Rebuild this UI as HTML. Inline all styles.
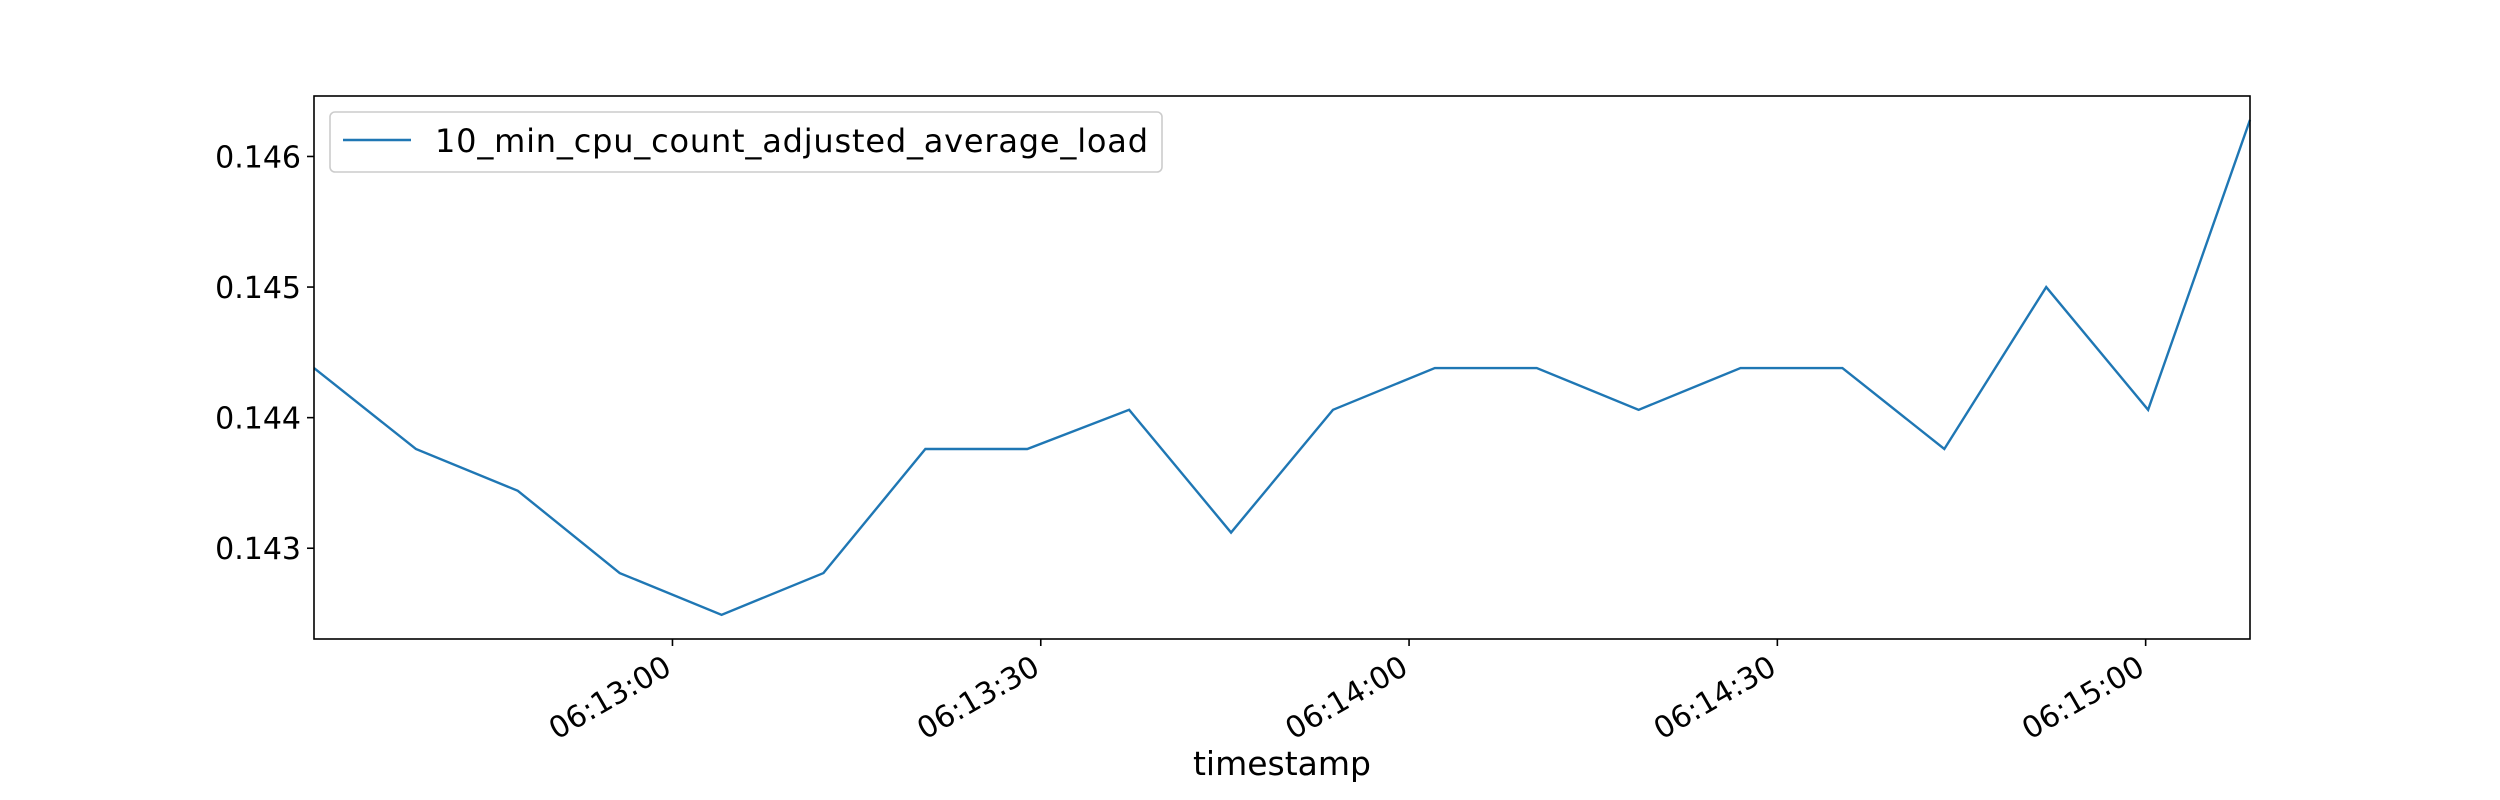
<!DOCTYPE html>
<html><head><meta charset="utf-8"><style>body{margin:0;background:#fff}svg{display:block}text{font-family:"DejaVu Sans","Liberation Sans",sans-serif;fill:#000}</style></head>
<body>
<svg id="chart" width="2500" height="800" xmlns="http://www.w3.org/2000/svg">
<rect width="2500" height="800" fill="#fff"/>
<g id="grid"></g>
<g id="series"></g>
<rect x="314" y="96" width="1936" height="543" fill="none" stroke="#000" stroke-width="1.6"/>
<g id="axes"></g>
<g>
<rect x="330" y="112" width="832" height="60" rx="5" fill="#fff" stroke="#ccc" stroke-width="1.6"/>
<line x1="343" y1="140" x2="411" y2="140" stroke="#1f77b4" stroke-width="2.4"/>
<text x="435" y="152" font-size="32" textLength="713">10_min_cpu_count_adjusted_average_load</text>
</g>
<text x="1282" y="775" font-size="33" text-anchor="middle">timestamp</text>
</svg>
<script>
// seconds relative to 06:13:00
const times = [-29.2,-20.9,-12.6,-4.3,4.0,12.3,20.6,28.9,37.2,45.5,53.8,62.1,70.4,78.7,87.0,95.3,103.6,111.9,120.2,128.5];
const values = [0.14438,0.14376,0.14344,0.14281,0.14249,0.14281,0.14376,0.14376,0.14406,0.14312,0.14406,0.14438,0.14438,0.14406,0.14438,0.14438,0.14376,0.14500,0.14406,0.14628];
const yTicks = [0.143,0.144,0.145,0.146];
const yTickLabels = ["0.143","0.144","0.145","0.146"];
const xTicks = [0,30,60,90,120];
const xTickLabels = ["06:13:00","06:13:30","06:14:00","06:14:30","06:15:00"];

const L=314,R=2250,T=96,B=639;
const xMin=-29.2,xMax=128.5,yMin=0.142305,yMax=0.146463;
const xs=t=>L+(t-xMin)/(xMax-xMin)*(R-L);
const ys=v=>B-(v-yMin)/(yMax-yMin)*(B-T);
const NS="http://www.w3.org/2000/svg";
const axes=document.getElementById('axes');
yTicks.forEach((v,i)=>{
  const y=ys(v);
  const l=document.createElementNS(NS,'line');
  l.setAttribute('x1',L-7);l.setAttribute('x2',L);l.setAttribute('y1',y);l.setAttribute('y2',y);
  l.setAttribute('stroke','#000');l.setAttribute('stroke-width','1.6');
  
  
  axes.appendChild(l);
  const t=document.createElementNS(NS,'text');
  t.setAttribute('x',L-13);t.setAttribute('y',y+11);t.setAttribute('font-size','30');t.setAttribute('text-anchor','end');
  t.textContent=yTickLabels[i];
  
  
  axes.appendChild(t);
});
xTicks.forEach((s,i)=>{
  const x=xs(s);
  const l=document.createElementNS(NS,'line');
  l.setAttribute('x1',x);l.setAttribute('x2',x);l.setAttribute('y1',B);l.setAttribute('y2',B+7);
  l.setAttribute('stroke','#000');l.setAttribute('stroke-width','1.6');
  
  
  axes.appendChild(l);
  const t=document.createElementNS(NS,'text');
  t.setAttribute('transform','translate('+(x-10)+','+(B+15)+') rotate(-30)');
  t.setAttribute('font-size','30');t.setAttribute('text-anchor','end');t.setAttribute('dominant-baseline','hanging');
  t.textContent=xTickLabels[i];
  
  
  axes.appendChild(t);
});
const p=document.createElementNS(NS,'polyline');
p.setAttribute('points',times.map((t,i)=>xs(t)+','+ys(values[i])).join(' '));
p.setAttribute('fill','none');p.setAttribute('stroke','#1f77b4');p.setAttribute('stroke-width','2.4');


document.getElementById('series').appendChild(p);
</script>
</body></html>
